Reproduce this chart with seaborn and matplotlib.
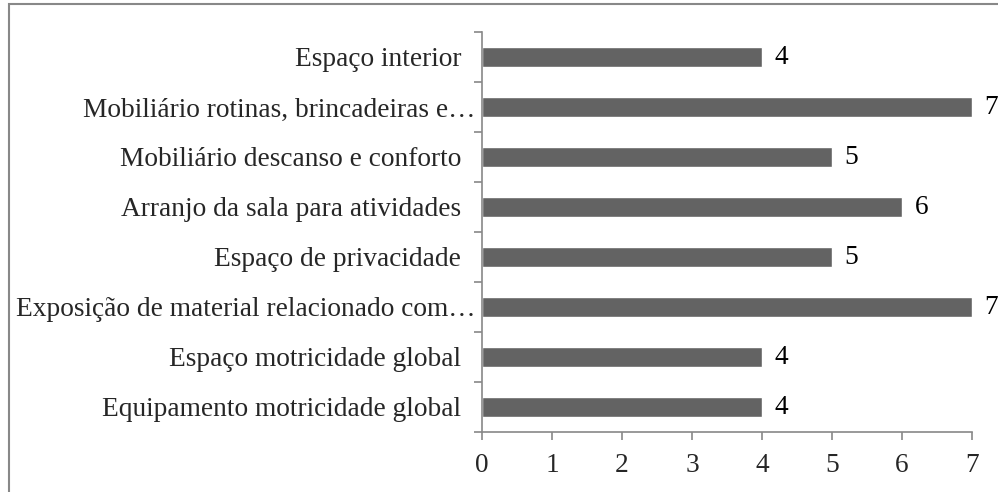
import matplotlib
matplotlib.use("Agg")
import matplotlib.pyplot as plt
import seaborn as sns
import pandas as pd
import numpy as np
from matplotlib.patches import Rectangle

categorias = [
    "Espaço interior",
    "Mobiliário rotinas, brincadeiras e…",
    "Mobiliário descanso e conforto",
    "Arranjo da sala para atividades",
    "Espaço de privacidade",
    "Exposição de material relacionado com…",
    "Espaço motricidade global",
    "Equipamento motricidade global",
]
valores = [4, 7, 5, 6, 5, 7, 4, 4]

df = pd.DataFrame({"cat": categorias, "val": valores})

sns.set_style("white")
plt.rcParams["font.family"] = ["Liberation Serif", "DejaVu Serif"]

fs = 19.7
fig = plt.figure(figsize=(9.98, 4.92), dpi=100)
ax = fig.add_axes([482 / 998, 1 - 432 / 492, (972 - 482) / 998, 400 / 492])

sns.barplot(data=df, y="cat", x="val", color="#636363", width=0.4,
            saturation=1, ax=ax, orient="h")

for i, v in enumerate(valores):
    ax.text(v + 0.18, i, str(v), va="center", ha="left", fontsize=fs, color="black")

ax.set_xlim(0, 7)
ax.set_ylim(len(categorias) - 0.5, -0.5)
ax.set_xticks(range(0, 8))
ax.set_xlabel("")
ax.set_ylabel("")

# rotulos nao truncados ficam com espaco no fim (como no Excel)
rotulos = [c if c.endswith("…") else c + "  " for c in categorias]

# ticks do eixo y nos limites entre categorias
ax.set_yticks(np.arange(-0.5, len(categorias), 1), minor=False)
ax.set_yticklabels([])
ax.set_yticks(range(len(categorias)), minor=True)
ax.set_yticklabels(rotulos, minor=True, fontsize=fs)
ax.tick_params(axis="y", which="minor", left=True, length=0, pad=5)
ax.tick_params(axis="y", which="major", left=True, length=6, color="#888888", width=1.2, direction="out")
ax.tick_params(axis="x", bottom=True, length=6, color="#888888", width=1.2, direction="out", labelsize=fs, pad=9)

for s in ["top", "right"]:
    ax.spines[s].set_visible(False)
for s in ["left", "bottom"]:
    ax.spines[s].set_color("#888888")
    ax.spines[s].set_linewidth(1.2)

# moldura da figura (apenas esquerda e topo visiveis)
fig.patches.append(Rectangle((9 / 998, -0.1), 1.2, 1.1 - 4 / 492, transform=fig.transFigure,
                             fill=False, edgecolor="#888888", linewidth=1.5, zorder=-1))

fig.savefig("out.png", dpi=100)
